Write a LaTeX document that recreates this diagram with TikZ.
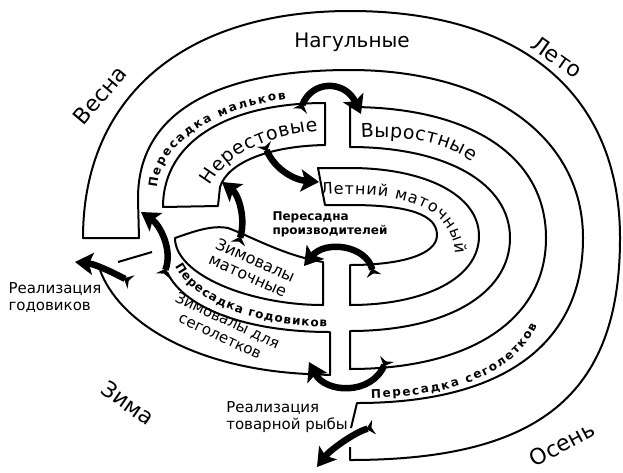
\documentclass[tikz,border=0pt]{standalone}
\usepackage{fontspec}
\setmainfont{DejaVu Sans}
\usetikzlibrary{arrows.meta,decorations.text}

\newcommand\smlbl{\bfseries\fontsize{12}{12}\selectfont}
\newcommand\midlbl{\fontsize{16}{16}\selectfont}
\newcommand\biglbl{\fontsize{19}{19}\selectfont}

\tikzset{
  pond/.style={line width=2pt, line join=round},
  move/.style={line width=6.5pt,
    {Stealth[reversed,length=8pt,width=15pt]}-{Stealth[length=18pt,width=22pt,inset=4pt]}},
  season/.style={font=\fontsize{22}{22}\selectfont, inner sep=0pt},
  big/.style={font=\biglbl},
  mid/.style={font=\fontsize{15}{17}\selectfont, align=left},
  small/.style={font=\bfseries\fontsize{12}{14}\selectfont, align=left},
  along/.style={decorate, decoration={text along path, text align={fit to path}, text={#1}}}
}

\begin{document}
\begin{tikzpicture}[x=1pt, y=-1pt]
  \useasboundingbox (0,0) rectangle (623,472);

  % Нагульные: outer ring, one line
  \draw[pond] (350,447) -- (350,460)
    .. controls (539,460) and (620,395) .. (620,238)
    .. controls (620,97) and (525,11) .. (350,11)
    .. controls (184,11) and (83,97) .. (83,238)
    -- (139,238) -- (138,200)
    .. controls (137,110) and (220,70) .. (350,70)
    .. controls (490,70) and (583,137) .. (583,238)
    .. controls (583,345) and (502,403) .. (357,403)
    -- (351,428);
  % Нерестовые
  \draw[pond] (325,103) -- (325,145)
    .. controls (270,146) and (228,162) .. (220,187)
    -- (218,206) -- (163,207)
    .. controls (163,140) and (230,103) .. (325,103) -- cycle;
  % Выростные
  \draw[pond] (350,107)
    .. controls (472,107) and (546,157) .. (546,238)
    .. controls (546,319) and (472,369) .. (350,369)
    -- (350,331)
    .. controls (446,331) and (510,294) .. (510,238)
    .. controls (510,183) and (446,147) .. (350,147) -- cycle;
  % Летний маточный
  \draw[pond] (318,168) -- (350,168)
    .. controls (425,168) and (479,195) .. (479,236)
    .. controls (479,278) and (425,305) .. (350,305)
    -- (350,265)
    .. controls (400,265) and (437,255) .. (437,235)
    .. controls (437,215) and (410,205) .. (350,205)
    -- (325,205) -- cycle;
  % Зимовалы маточные
  \draw[pond] (175,238) .. controls (195,231) and (212,225) .. (228,228)
    .. controls (250,236) and (285,256) .. (323,262)
    -- (323,305)
    .. controls (250,305) and (175,275) .. (175,238) -- cycle;
  % Зимовалы для сеголетков
  \draw[pond] (167,272) .. controls (185,310) and (250,332) .. (330,332)
    -- (330,375) -- (307,374)
    .. controls (190,368) and (118,320) .. (100,270);
  \draw[pond] (118,262) -- (152,252);

  % texts along the ponds
  \path[along={|\smlbl|Пересадка мальков}] (157,188) .. controls (160,145) and (210,110) .. (286,99);
  \path[along={|\biglbl|Нерестовые}] (210,186) .. controls (226,157) and (262,136) .. (318,131);
  \path[along={|\biglbl|Выростные}] (361,138) .. controls (405,135) and (447,142) .. (472,162);
  \path[along={|\midlbl|Летний маточный}] (321,195) .. controls (400,190) and (453,206) .. (455,254);
  \path[along={|\smlbl|Пересадка сеголетков}] (371,398) .. controls (445,396) and (511,379) .. (537,326);
  \path[along={|\smlbl|Пересадка годовиков}] (175,266) .. controls (194,303) and (252,325) .. (327,327);

  \node[season, rotate=50] (vesna) at (100,95) {Весна};
  \node[season, rotate=-35] (leto) at (557,57) {Лето};
  \node[season, rotate=-35] (zima) at (128,403) {Зима};
  \node[season, rotate=28] (osen) at (562,444) {Осень};
  \node[big, font=\fontsize{20}{20}\selectfont] (nagul) at (352,42) {Нагульные};
  \node[mid] (realgod) at (55,298) {Реализация\\годовиков};
  \node[mid] (realtov) at (287,417) {Реализация\\товарной рыбы};
  \node[small] (proizv) at (330,224) {Пересадна\\производителей};
  \node[mid, font=\fontsize{16}{17}\selectfont, rotate=-24] (zimmat) at (252,268) {Зимовалы\\маточные};
  \node[mid, rotate=-25, align=center] (zimseg) at (224,328) {Зимовалы для\\сеголетков};

  % transfers
  \coordinate (mal-a) at (300,111);  \coordinate (mal-b) at (361,114);
  \coordinate (ner-a) at (264,144);  \coordinate (ner-b) at (319,182);
  \coordinate (zm-a) at (238,244);   \coordinate (zm-b) at (222,182);
  \coordinate (god-a) at (163,276);  \coordinate (god-b) at (141,212);
  \coordinate (rg-a) at (131,282);   \coordinate (rg-b) at (75,262);
  \coordinate (pr-a) at (374,276);   \coordinate (pr-b) at (304,266);
  \coordinate (seg-a) at (387,359);  \coordinate (seg-b) at (309,362);
  \coordinate (tr-a) at (374,427);   \coordinate (tr-b) at (317,467);

  \draw[move] (mal-a) .. controls (312,80) and (345,80) .. (mal-b);
  \draw[move] (ner-a) .. controls (275,170) and (295,180) .. (ner-b);
  \draw[move] (zm-a) .. controls (246,220) and (239,195) .. (zm-b);
  \draw[move] (god-a) .. controls (173,250) and (160,225) .. (god-b);
  \draw[move] (rg-a) .. controls (112,272) and (95,264) .. (rg-b);
  \draw[move] (pr-a) .. controls (366,245) and (325,240) .. (pr-b);
  \draw[move] (seg-a) .. controls (371,396) and (325,393) .. (seg-b);
  \draw[move] (tr-a) .. controls (355,432) and (330,450) .. (tr-b);
\end{tikzpicture}
\end{document}
